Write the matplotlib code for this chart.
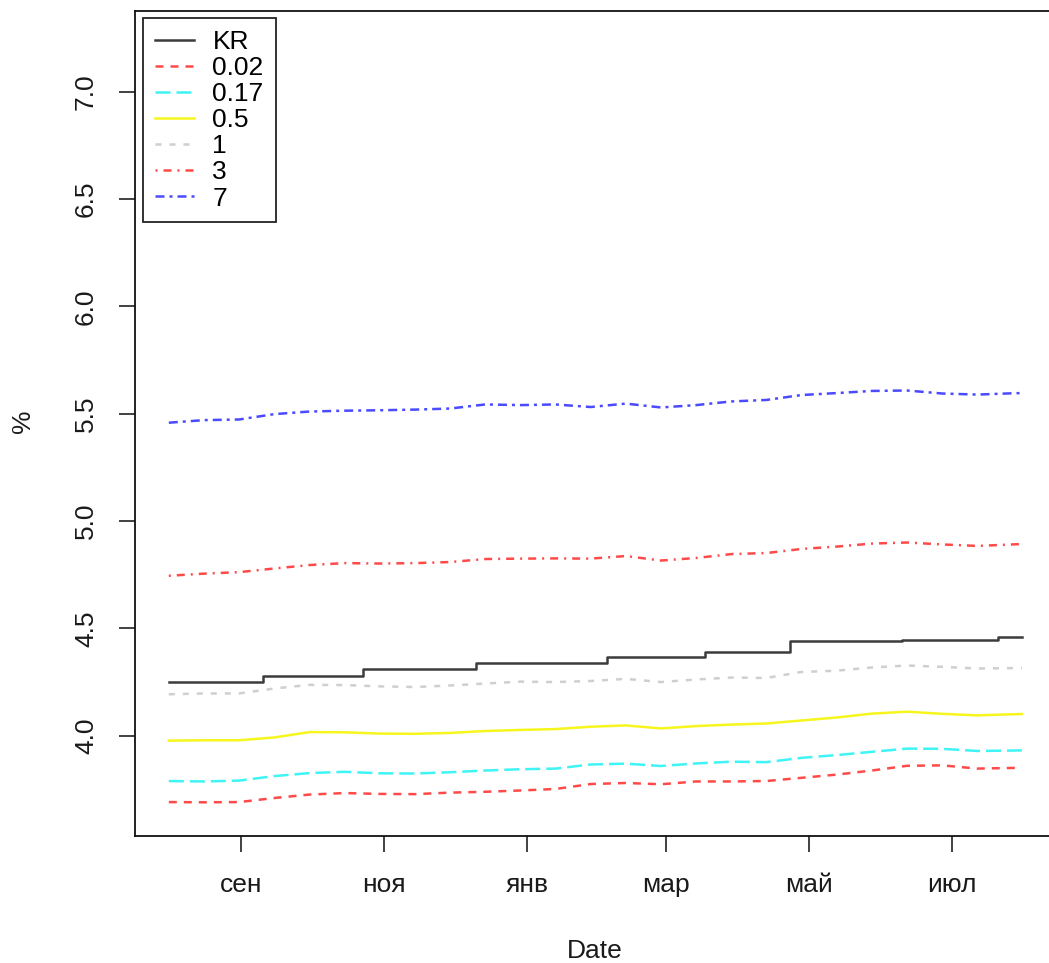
import matplotlib
matplotlib.use("Agg")
import matplotlib.pyplot as plt
import matplotlib.dates as mdates
import pandas as pd
import numpy as np

plt.rcParams['font.family'] = ['Liberation Sans', 'DejaVu Sans']
plt.rcParams['lines.scale_dashes'] = False

# ---- data ----
dates = list(pd.date_range("2018-08-01", periods=25, freq="15D")) + [pd.Timestamp("2019-07-31")]

s_7 = [5.458, 5.470, 5.473, 5.498, 5.510, 5.514, 5.516, 5.519, 5.524, 5.543, 5.540, 5.543, 5.531,
       5.547, 5.529, 5.540, 5.557, 5.564, 5.587, 5.596, 5.606, 5.608, 5.594, 5.589, 5.595, 5.596]
s_3 = [4.745, 4.755, 4.762, 4.779, 4.795, 4.804, 4.802, 4.804, 4.809, 4.823, 4.825, 4.826, 4.825,
       4.837, 4.816, 4.828, 4.846, 4.851, 4.870, 4.881, 4.895, 4.900, 4.891, 4.884, 4.891, 4.893]
s_1 = [4.193, 4.197, 4.197, 4.220, 4.237, 4.236, 4.230, 4.227, 4.234, 4.243, 4.252, 4.250, 4.255,
       4.265, 4.250, 4.262, 4.271, 4.269, 4.297, 4.303, 4.318, 4.327, 4.321, 4.313, 4.315, 4.315]
s_05 = [3.977, 3.979, 3.979, 3.992, 4.017, 4.016, 4.010, 4.009, 4.013, 4.022, 4.027, 4.031, 4.042,
        4.048, 4.034, 4.045, 4.052, 4.057, 4.071, 4.085, 4.103, 4.112, 4.102, 4.095, 4.100, 4.101]
s_017 = [3.789, 3.787, 3.791, 3.812, 3.826, 3.832, 3.825, 3.824, 3.830, 3.838, 3.844, 3.847, 3.866,
         3.870, 3.859, 3.871, 3.879, 3.877, 3.897, 3.910, 3.925, 3.940, 3.939, 3.929, 3.931, 3.932]
s_002 = [3.691, 3.690, 3.691, 3.710, 3.726, 3.733, 3.729, 3.728, 3.735, 3.739, 3.745, 3.752, 3.775,
         3.780, 3.774, 3.787, 3.787, 3.789, 3.804, 3.819, 3.838, 3.860, 3.862, 3.847, 3.850, 3.851]

kr_dates = ["2018-08-01", "2018-09-10", "2018-10-23", "2018-12-10", "2019-02-04",
            "2019-03-18", "2019-04-23", "2019-06-10", "2019-07-21", "2019-07-31"]
kr_values = [4.25, 4.28, 4.31, 4.34, 4.365, 4.39, 4.44, 4.445, 4.46, 4.46]

tick_dates = ["2018-09-01", "2018-11-01", "2019-01-01", "2019-03-01", "2019-05-01", "2019-07-01"]
tick_labels = ["сен", "ноя", "янв", "мар", "май", "июл"]
y_ticks = [4.0, 4.5, 5.0, 5.5, 6.0, 6.5, 7.0]

legend_labels = ["KR", "0.02", "0.17", "0.5", "1", "3", "7"]

# ---- figure ----
W, H = 1049, 963
fig = plt.figure(figsize=(W / 100, H / 100), dpi=100)
ax = fig.add_axes([134.7 / W, (H - 836) / H, (1056 - 134.7) / W, (836 - 10.7) / H])

lw = 1.8
px = 0.72  # points per pixel
kr_d = pd.to_datetime(kr_dates)
ax.plot(kr_d, kr_values, drawstyle='steps-post', color='#3c3c3c', lw=lw, label=legend_labels[0])
ax.plot(dates, s_002, color='#ff4a4a', lw=lw, linestyle=(0, (8 * px, 7 * px)), label=legend_labels[1])
ax.plot(dates, s_017, color='#3ff4f4', lw=lw, linestyle=(0, (15 * px, 6 * px)), label=legend_labels[2])
ax.plot(dates, s_05, color='#f6f61e', lw=lw, linestyle='-', label=legend_labels[3])
ax.plot(dates, s_1, color='#cfcfcf', lw=lw, linestyle=(0, (6 * px, 8 * px)), label=legend_labels[4])
ax.plot(dates, s_3, color='#ff4a4a', lw=lw, linestyle=(0, (2 * px, 6 * px, 8 * px, 6 * px)), label=legend_labels[5])
ax.plot(dates, s_7, color='#4a4aff', lw=lw, linestyle=(0, (9 * px, 5 * px, 3 * px, 5 * px)), label=legend_labels[6])

# R-style x range (4% expansion)
d0 = mdates.date2num(pd.Timestamp(dates[0]))
d1 = mdates.date2num(pd.Timestamp(dates[-1]))
span = d1 - d0
ax.set_xlim(d0 - 0.04 * span, d1 + 0.04 * span)
ax.set_ylim(3.533, 7.377)

ax.set_xticks(mdates.date2num(pd.to_datetime(tick_dates)))
ax.set_xticklabels(tick_labels)
ax.set_yticks(y_ticks)
ax.set_yticklabels([f"{v:.1f}" for v in y_ticks], rotation=90, va='center')

for s in ax.spines.values():
    s.set_linewidth(1.3)
    s.set_color('#111111')
ax.tick_params(axis='both', direction='out', length=11.5, width=1.3, color='#333333',
               labelsize=19, labelcolor='#1a1a1a', pad=15)

fig.text(595 / W, 1 - 958 / H, "Date", ha='center', va='baseline', fontsize=19, color='#1a1a1a')
fig.text(23 / W, 1 - 421 / H, "%", ha='center', va='center', rotation=90, fontsize=19, color='#1a1a1a')

leg = ax.legend(loc='upper left', bbox_to_anchor=((143 - 134.7) / (1056 - 134.7), (836 - 18) / (836 - 10.7)),
                borderaxespad=0, fontsize=19, handlelength=1.5, handletextpad=0.68,
                labelspacing=0.08, borderpad=0.45, fancybox=False, framealpha=1)
leg.get_frame().set_edgecolor('#222222')
leg.get_frame().set_linewidth(1.3)

fig.savefig("out.png", dpi=100)
